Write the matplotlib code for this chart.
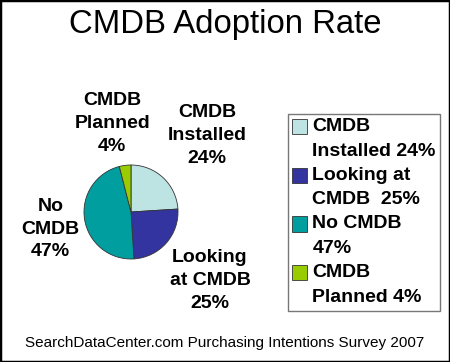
import numpy as np
import matplotlib
matplotlib.use('Agg')
import matplotlib.pyplot as plt
from matplotlib.patches import Rectangle
from matplotlib.legend_handler import HandlerPatch

# Data
categories = ['CMDB\nInstalled', 'Looking\nat CMDB', 'No\nCMDB', 'CMDB\nPlanned']
legend_labels = ['CMDB\nInstalled 24%', 'Looking at\nCMDB  25%', 'No CMDB\n47%', 'CMDB\nPlanned 4%']
shares = [24, 25, 47, 4]
colors = ['#BDE3E3', '#3434A0', '#009E9E', '#99CC00']

# label placement: distance from centre (radii) and angle nudge (degrees)
label_dist = [2.3, 2.22, 1.75, 1.93]
label_nudge = [-1.5, 0.6, 3.0, 4.8]

plt.rcParams['font.family'] = ['Liberation Sans', 'DejaVu Sans']

fig = plt.figure(figsize=(4.5, 3.62), dpi=100)
W, H = 450, 362

# pie centre and radius in pixels
cx, cy, r = 131, 362 - 212, 47
half = 1.25 * r
ax = fig.add_axes([(cx - half) / W, (cy - half) / H, 2 * half / W, 2 * half / H])
wedges, _ = ax.pie(shares, colors=colors, startangle=90, counterclock=False,
                   wedgeprops=dict(edgecolor='#333333', linewidth=0.6))
ax.set_xlim(-1.25, 1.25)
ax.set_ylim(-1.25, 1.25)

for w, cat, val, d, nd in zip(wedges, categories, shares, label_dist, label_nudge):
    ang = np.deg2rad((w.theta1 + w.theta2) / 2 + nd)
    ax.text(d * np.cos(ang), d * np.sin(ang), f'{cat}\n{val}%', ha='center', va='center',
            fontsize=14, fontweight='bold', linespacing=1.45, clip_on=False)


# legend square sits next to the first line of a two-line entry
def top_square(legend, orig_handle, xdescent, ydescent, width, height, fontsize):
    s = 0.78 * fontsize
    return Rectangle((-xdescent, -ydescent + height - s), s, s)


leg = fig.legend(wedges, legend_labels, loc='upper left',
                 bbox_to_anchor=(288 / W, 1 - 114 / H), frameon=True, fancybox=False,
                 prop=dict(size=14, weight='bold'), handlelength=0.8, handleheight=2.9,
                 handletextpad=0.25, labelspacing=0.33, borderpad=0.2, borderaxespad=0,
                 handler_map={w: HandlerPatch(patch_func=top_square) for w in wedges})
for t in leg.get_texts():
    t.set_linespacing(1.6)
leg.get_frame().set_edgecolor('#555555')
leg.get_frame().set_linewidth(1.0)

fig.text(0.5, 1 - 24 / H, 'CMDB Adoption Rate', ha='center', va='center', fontsize=23.7)
fig.text(0.5, 1 - 343 / H, 'SearchDataCenter.com Purchasing Intentions Survey 2007',
         ha='center', va='center', fontsize=11)

# outer frame
fig.patches.append(Rectangle((0, 0), 1, 1, transform=fig.transFigure, fill=False,
                             edgecolor='black', linewidth=2.5))

fig.savefig('out.png', dpi=100)
